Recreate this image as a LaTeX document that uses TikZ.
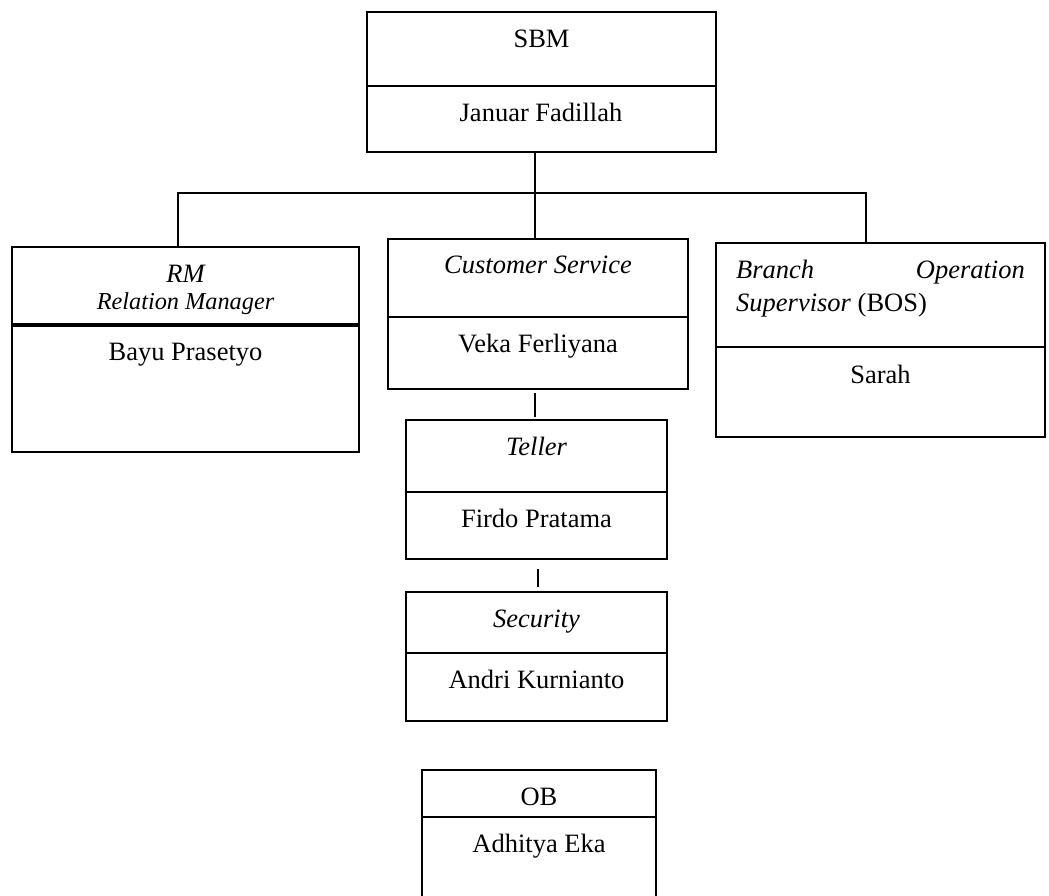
\documentclass[tikz,border=0pt]{standalone}
\usepackage{fontspec}
\setmainfont{Liberation Serif}
\begin{document}
\begin{tikzpicture}[x=1pt,y=-1pt,
  box/.style={draw, line width=2.6pt, rectangle, inner sep=0pt},
  conn/.style={line width=2.7pt},
  div/.style={line width=2.2pt},
  txt/.style={font=\fontsize{26.5}{30}\selectfont, inner sep=0pt, anchor=base},
  smalltxt/.style={font=\fontsize{24.3}{28}\selectfont\itshape, inner sep=0pt, anchor=base}]
\useasboundingbox (0,0) rectangle (1049,896);

% boxes
\node[box, minimum width=349pt, minimum height=140pt] (sbm) at (541.5,82) {};
\node[box, minimum width=347pt, minimum height=205pt] (rm) at (185.5,349.5) {};
\node[box, minimum width=300pt, minimum height=150pt] (cs) at (538,314) {};
\node[box, minimum width=329pt, minimum height=194pt] (bos) at (880.5,340) {};
\node[box, minimum width=261pt, minimum height=139pt] (teller) at (536.5,489.5) {};
\node[box, minimum width=261pt, minimum height=129pt] (sec) at (536.5,656.5) {};
\coordinate (obTL) at (422,770);
\coordinate (obTR) at (656,770);
\coordinate (obBL) at (422,898);
\coordinate (obBR) at (656,898);
\draw[line width=2.6pt] (obBL) -- (obTL) -- (obTR) -- (obBR);

% dividers
\draw[div] (sbm.west |- 0,86) -- (sbm.east |- 0,86);
\draw[line width=3.3pt] (rm.west |- 0,325) -- (rm.east |- 0,325);
\draw[div] (cs.west |- 0,317) -- (cs.east |- 0,317);
\draw[div] (bos.west |- 0,347) -- (bos.east |- 0,347);
\draw[div] (teller.west |- 0,492) -- (teller.east |- 0,492);
\draw[div] (sec.west |- 0,653) -- (sec.east |- 0,653);
\draw[div] (obTL |- 0,817) -- (obTR |- 0,817);

% connectors
\coordinate (bar) at (535,193);
\coordinate (barL) at (178,193);
\coordinate (barR) at (866,193);
\draw[conn] (bar |- sbm.south) -- (bar |- cs.north);
\draw[conn] (barL |- rm.north) -- (barL) -- (barR) -- (barR |- bos.north);
\coordinate (c1) at (535,393);
\coordinate (c2) at (535,417);
\draw[conn] (c1) -- (c2);
\coordinate (c3) at (538,569);
\coordinate (c4) at (538,587);
\draw[conn] (c3) -- (c4);

% texts
\node[txt] (t1) at (541.5,48) {SBM};
\node[txt] (t2) at (541,122) {Januar Fadillah};
\node[txt] (t3) at (185.5,282) {\itshape RM};
\node[smalltxt] (t4) at (185.5,309) {Relation Manager};
\node[txt] (t5) at (185.5,360) {Bayu Prasetyo};
\node[txt] (t6) at (538,273) {\itshape Customer Service};
\node[txt] (t7) at (538,352) {Veka Ferliyana};
\node[txt, anchor=base west] (t8) at (736,278) {\itshape Branch};
\node[txt, anchor=base east] (t9) at (1025,278) {\itshape Operation};
\node[txt, anchor=base west] (t10) at (736,311) {\textit{Supervisor} (BOS)};
\node[txt] (t11) at (880.5,383) {Sarah};
\node[txt] (t12) at (536.5,455) {\itshape Teller};
\node[txt] (t13) at (536.5,527) {Firdo Pratama};
\node[txt] (t14) at (536.5,627) {\itshape Security};
\node[txt] (t15) at (536.5,688) {Andri Kurnianto};
\node[txt] (t16) at (539,805) {OB};
\node[txt] (t17) at (539,852) {Adhitya Eka};
\end{tikzpicture}
\end{document}
